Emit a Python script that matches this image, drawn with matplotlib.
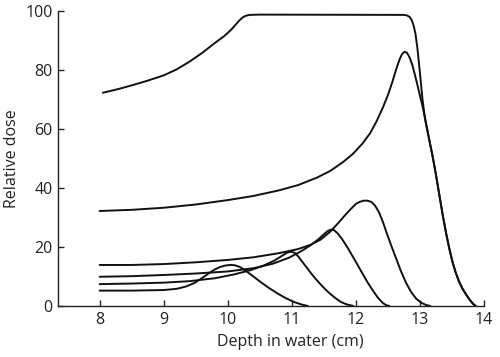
import matplotlib
matplotlib.use("Agg")
import matplotlib.pyplot as plt

# depth-dose curves (depth in cm, relative dose)
sobp_x = [8.05, 8.3, 8.5, 8.75, 9.0, 9.2, 9.4, 9.6, 9.8, 9.95, 10.05, 10.12, 10.18, 10.23,
          10.28, 10.34, 10.5, 12.75, 12.8, 12.84, 12.87, 12.9, 12.93, 12.96, 13.0, 13.04,
          13.08, 13.13, 13.2, 13.25, 13.3, 13.36, 13.41, 13.46, 13.51, 13.56, 13.61,
          13.66, 13.72, 13.78, 13.83, 13.87]
sobp_y = [72.3, 73.6, 74.8, 76.4, 78.2, 80.2, 82.8, 85.8, 89.2, 91.6, 93.6, 95.3, 96.8, 97.8,
          98.4, 98.7, 98.8, 98.7, 98.5, 98.0, 97.0, 95.2, 92.3, 87.5, 79.0, 70.0,
          63.5, 58.0, 50.5, 44.5, 38.0, 30.3, 24.5, 19.3, 14.8, 11.2, 8.3,
          6.0, 3.9, 2.0, 0.7, 0.0]

peak86_x = [8.0, 8.5, 9.0, 9.5, 10.0, 10.4, 10.8, 11.1, 11.4, 11.6, 11.8, 11.95, 12.1,
            12.22, 12.32, 12.42, 12.5, 12.57, 12.63, 12.68, 12.72, 12.76, 12.8, 12.84,
            12.88, 12.92, 12.96, 13.0, 13.04, 13.08, 13.13, 13.2, 13.25, 13.3, 13.36,
            13.41, 13.46, 13.51, 13.56, 13.61, 13.66, 13.72, 13.78, 13.83, 13.87]
peak86_y = [32.2, 32.6, 33.3, 34.4, 35.9, 37.3, 39.2, 41.0, 43.6, 45.8, 48.8, 51.5, 55.0,
            58.5, 62.5, 67.2, 71.5, 76.0, 80.3, 83.5, 85.4, 86.2, 85.8, 84.2,
            81.8, 78.5, 75.0, 71.3, 67.8, 63.5, 58.0, 50.5, 44.5, 38.0, 30.3,
            24.5, 19.3, 14.8, 11.2, 8.3, 6.0, 3.9, 2.0, 0.7, 0.0]

peak36_x = [8.0, 8.5, 9.0, 9.5, 10.0, 10.4, 10.8, 11.1, 11.3, 11.45, 11.6, 11.72, 11.84,
            11.94, 12.0, 12.06, 12.12, 12.18, 12.24, 12.3, 12.36, 12.42, 12.48, 12.55,
            12.63, 12.7, 12.78, 12.86, 12.94, 13.02, 13.1, 13.16]
peak36_y = [13.9, 13.9, 14.2, 14.8, 15.6, 16.5, 17.9, 19.3, 20.8, 22.5, 25.2, 28.0, 31.0,
            33.3, 34.6, 35.3, 35.7, 35.7, 35.3, 34.0, 31.8, 28.6, 24.8, 20.6,
            16.0, 12.0, 8.0, 4.8, 2.5, 1.1, 0.3, 0.0]

peak26_x = [8.0, 8.5, 9.0, 9.5, 10.0, 10.4, 10.7, 10.95, 11.15, 11.3, 11.42, 11.5, 11.56,
            11.61, 11.66, 11.72, 11.79, 11.87, 11.95, 12.03, 12.1, 12.18, 12.26, 12.34,
            12.42, 12.48, 12.52]
peak26_y = [9.9, 10.1, 10.5, 11.0, 11.7, 12.8, 14.3, 16.3, 18.6, 20.7, 22.7, 24.3, 25.4,
            25.9, 25.7, 24.5, 22.5, 19.8, 16.8, 13.8, 11.1, 8.1, 5.4, 2.9,
            1.0, 0.2, 0.0]

peak18_x = [8.0, 8.5, 9.0, 9.4, 9.8, 10.1, 10.35, 10.55, 10.72, 10.84, 10.92, 10.98, 11.04,
            11.1, 11.17, 11.24, 11.31, 11.38, 11.45, 11.53, 11.61, 11.69, 11.77, 11.86,
            11.96]
peak18_y = [7.4, 7.6, 7.9, 8.4, 9.4, 10.7, 12.1, 13.6, 15.3, 16.9, 18.0, 18.4, 18.1,
            16.8, 14.8, 12.8, 10.8, 9.0, 7.3, 5.5, 3.9, 2.5, 1.3, 0.5,
            0.0]

peak14_x = [8.0, 8.5, 9.0, 9.2, 9.35, 9.48, 9.56, 9.64, 9.72, 9.8, 9.88, 9.96, 10.04,
            10.11, 10.18, 10.25, 10.32, 10.4, 10.52, 10.65, 10.78, 10.91, 11.04, 11.15,
            11.25]
peak14_y = [5.2, 5.2, 5.4, 5.8, 6.6, 7.8, 8.9, 10.1, 11.3, 12.4, 13.2, 13.7, 13.9,
            13.8, 13.3, 12.4, 11.3, 10.0, 8.0, 6.0, 4.2, 2.6, 1.3, 0.5,
            0.0]

curves = [(sobp_x, sobp_y), (peak86_x, peak86_y), (peak36_x, peak36_y),
          (peak26_x, peak26_y), (peak18_x, peak18_y), (peak14_x, peak14_y)]

x_ticks = [8, 9, 10, 11, 12, 13, 14]
y_ticks = [0, 20, 40, 60, 80, 100]

txt = "#222222"
plt.rcParams['font.family'] = ['Open Sans', 'DejaVu Sans']

fig = plt.figure(figsize=(5, 3.57), dpi=100)
ax = fig.add_axes([0.116, 0.143, 0.852, 0.826])

for xs, ys in curves:
    ax.plot(xs, ys, color="#111111", lw=1.4, solid_capstyle='round',
            solid_joinstyle='round')

ax.set_xlim(7.35, 14)
ax.set_ylim(0, 100)
ax.set_xticks(x_ticks)
ax.set_yticks(y_ticks)
ax.spines['top'].set_visible(False)
ax.spines['right'].set_visible(False)
for s in ('left', 'bottom'):
    ax.spines[s].set_linewidth(1.0)
    ax.spines[s].set_color("#222222")
ax.tick_params(direction='in', length=4.5, width=1.0, color="#222222",
               labelsize=11.5, labelcolor=txt, pad=4)
# label sits over the 8-14 span, not the whole axis
ax.set_xlabel("Depth in water (cm)", fontsize=11.5, color=txt, labelpad=5, x=0.545)
ax.set_ylabel("Relative dose", fontsize=11.5, color=txt, labelpad=4)

fig.savefig("out.png", dpi=100)
